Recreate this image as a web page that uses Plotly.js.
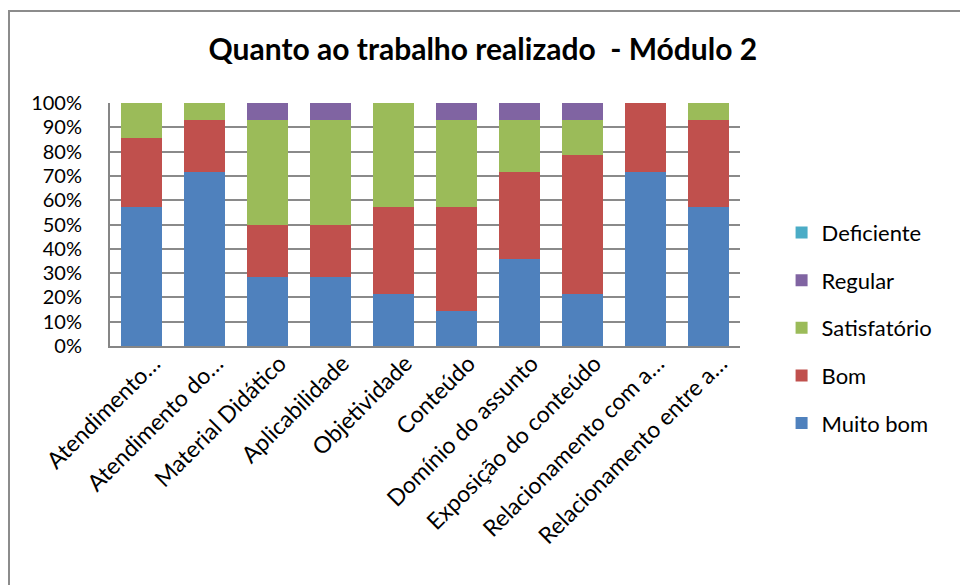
<!DOCTYPE html>
<html>
<head>
<meta charset="utf-8">
<script src="https://cdn.plot.ly/plotly-3.0.1.min.js"></script>
<style>
html,body{margin:0;padding:0;background:#fff;}
#wrap{position:relative;width:960px;height:585px;overflow:hidden;}
#frame{position:absolute;left:8px;top:10px;width:980px;height:620px;border:2px solid #8c8c8c;box-sizing:border-box;pointer-events:none;}
#chart{position:absolute;left:0;top:0;width:960px;height:585px;}
</style>
</head>
<body>
<div id="wrap"><div id="chart"></div><div id="frame"></div></div>
<script>
const categories = ["Atendimento…","Atendimento do…","Material Didático","Aplicabilidade","Objetividade","Conteúdo","Domínio do assunto","Exposição do conteúdo","Relacionamento com a…","Relacionamento entre a…"];
// number of responses per category (out of 14)
const muitoBom     = [8, 10, 4, 4, 3, 2, 5, 3, 10, 8];
const bom          = [4, 3, 3, 3, 5, 6, 5, 8, 4, 5];
const satisfatorio = [2, 1, 6, 6, 6, 5, 3, 2, 0, 1];
const regular      = [0, 0, 1, 1, 0, 1, 1, 1, 0, 0];
const deficiente   = [0, 0, 0, 0, 0, 0, 0, 0, 0, 0];
const yTicks = [0,10,20,30,40,50,60,70,80,90,100];
const yTickLabels = yTicks.map(v => v + "%");

const series = [
  {name:"Muito bom", y:muitoBom, color:"#4F81BD", rank:5},
  {name:"Bom", y:bom, color:"#C0504D", rank:4},
  {name:"Satisfatório", y:satisfatorio, color:"#9BBB59", rank:3},
  {name:"Regular", y:regular, color:"#8064A2", rank:2},
  {name:"Deficiente", y:deficiente, color:"#4BACC6", rank:1}
];
const font = "Lato, 'Open Sans', 'DejaVu Sans', sans-serif";
const data = series.map(s => ({
  type:"bar", name:s.name, x:categories, y:s.y, legendgroup:s.name, legendrank:s.rank,
  marker:{color:s.color, line:{width:0}}, hoverinfo:"skip"
}));
const layout = {
  width:960, height:585,
  margin:{l:110, r:220, t:103, b:239, pad:0},
  paper_bgcolor:"#fff", plot_bgcolor:"#fff",
  barmode:"stack", barnorm:"percent", bargap:0.35,
  font:{family:font, size:22, color:"#000"},
  title:{text:"<b>Quanto ao trabalho realizado  - Módulo 2</b>", x:0.503, xref:"container", xanchor:"center", y:0.915, yanchor:"middle",
    font:{family:font, size:30, color:"#000"}},
  xaxis:{tickangle:-45, showline:true, linecolor:"#868686", linewidth:2, ticks:"", showgrid:false,
    ticklabelshift:12, ticklabelstandoff:-7,
    tickfont:{family:font, size:23, color:"#000"}, automargin:false},
  yaxis:{range:[0,100], tickvals:yTicks, ticktext:yTickLabels, showline:true, linecolor:"#868686", linewidth:2,
    gridcolor:"#8a8a8a", gridwidth:2, ticks:"", ticklen:0, zeroline:false, ticklabelstandoff:22,
    tickfont:{family:font, size:20, color:"#000"}, automargin:false},
  legend:{x:1.066, xanchor:"left", y:0.075, yanchor:"middle", traceorder:"grouped", tracegroupgap:16,
    font:{family:font, size:22, color:"#000"}, itemwidth:30, bgcolor:"rgba(0,0,0,0)"},
  showlegend:true
};
Plotly.newPlot("chart", data, layout, {staticPlot:true, displayModeBar:false});
</script>
</body>
</html>
